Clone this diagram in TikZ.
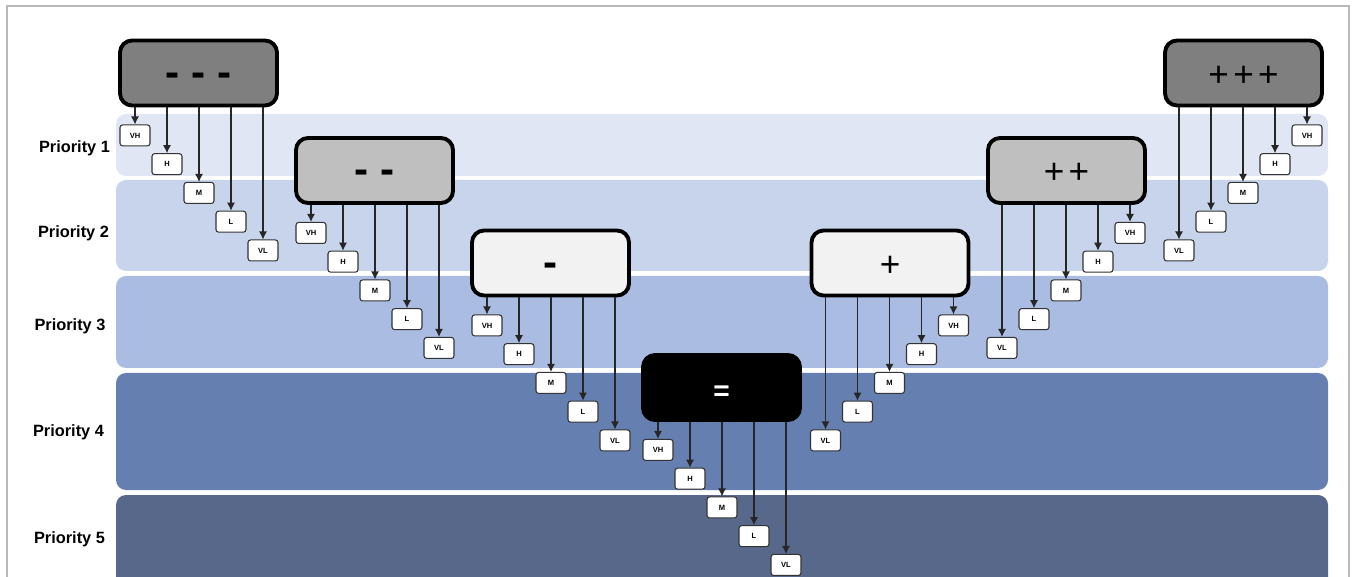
\documentclass[tikz,border=0pt]{standalone}
\usepackage{fontspec}
\setmainfont{Liberation Sans}
\usetikzlibrary{calc,arrows.meta}

\definecolor{prioA}{HTML}{E0E6F3}
\definecolor{prioB}{HTML}{C7D4EC}
\definecolor{prioC}{HTML}{AABCE2}
\definecolor{prioD}{HTML}{657FB0}
\definecolor{prioE}{HTML}{58688A}
\definecolor{boxdark}{HTML}{7F7F7F}
\definecolor{boxmid}{HTML}{BFBFBF}
\definecolor{boxlight}{HTML}{F2F2F2}

\tikzset{
	band/.style={rounded corners=0.2cm},
	prio/.style={font=\bfseries\fontsize{9.3}{11}\selectfont},
	bigbox/.style={draw=black, line width=2.2pt, rounded corners=0.24cm,
		minimum width=3.14cm, minimum height=1.3cm, inner sep=0pt,
		text height=15pt, text depth=0pt},
	smallbox/.style={draw=black!80, fill=white, line width=0.6pt, rounded corners=1.5pt,
		minimum width=0.6cm, minimum height=0.42cm, inner sep=0pt,
		font=\bfseries\fontsize{4.3}{5}\selectfont},
	arr/.style={-{Latex[length=4.5pt,width=4.5pt]}, line width=0.6pt, black!85}
}

\begin{document}
\begin{tikzpicture}[x=0.02cm, y=-0.02cm]
	\clip (0,0) rectangle (1356,577);
	\draw [gray!55, line width=0.8pt] (7,600) -- (7,6) -- (1349,6) -- (1349,600);

	% priority bands
	\fill [band, prioA] (116,114) rectangle (1328,176);
	\fill [band, prioB] (116,180) rectangle (1328,271);
	\fill [band, prioC] (116,276) rectangle (1328,368);
	\fill [band, prioD] (116,373) rectangle (1328,490);
	\fill [band, prioE] (116,495) rectangle (1328,600);

	\node [prio] (P1) at (74.5,148) {Priority 1};
	\node [prio] (P2) at (73.5,233) {Priority 2};
	\node [prio] (P3) at (70,326) {Priority 3};
	\node [prio] (P4) at (68.5,432) {Priority 4};
	\node [prio] (P5) at (69.5,539) {Priority 5};

	% effect boxes
	\node [bigbox, fill=boxdark, font=\bfseries\fontsize{24}{24}\selectfont] (mmm) at (198.5,73) {- - -};
	\node [bigbox, fill=boxmid, font=\bfseries\fontsize{24}{24}\selectfont] (mm) at (374.5,170.5) {- -};
	\node [bigbox, fill=boxlight, font=\bfseries\fontsize{24}{24}\selectfont] (m) at (550.5,263) {-};
	\node [bigbox, fill=black, text=white, font=\bfseries\fontsize{16}{16}\selectfont] (eq) at (721.5,387.5) {=};
	\node [bigbox, fill=boxlight, font=\fontsize{20}{20}\selectfont] (p) at (890,263) {+};
	\node [bigbox, fill=boxmid, font=\fontsize{20}{20}\selectfont] (pp) at (1066.5,170.5) {+\kern2.5pt+};
	\node [bigbox, fill=boxdark, font=\fontsize{20}{20}\selectfont] (ppp) at (1243.5,73) {+\kern2.5pt+\kern2.5pt+};

	% levels below each box
	\foreach \b/\d in {mmm/1, mm/1, m/1, eq/1, p/-1, pp/-1, ppp/-1}
		\foreach \s [count=\i from 0] in {VH,H,M,L,VL} {
			\node [smallbox] (\b-\s) at ($(\b.south)+(-63.5*\d+32*\d*\i, 28+28.75*\i)$) {\s};
			\draw [arr] (\b-\s |- \b.south) -- (\b-\s);
		}

\end{tikzpicture}
\end{document}
